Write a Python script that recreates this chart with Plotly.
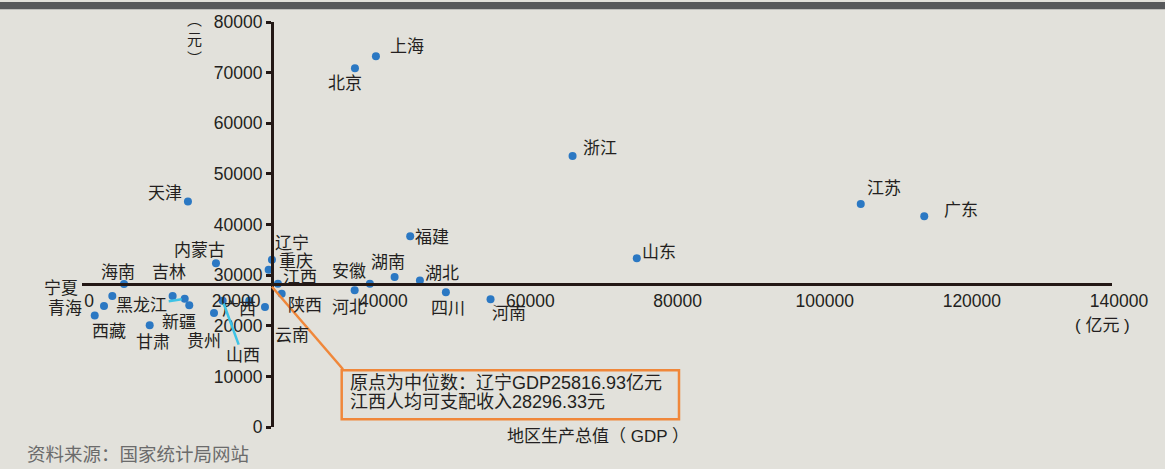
import plotly.graph_objects as go

# ---------------- data ----------------
provinces = ["上海", "北京", "浙江", "江苏", "广东", "山东", "天津", "福建",
             "内蒙古", "辽宁", "重庆", "江西", "陕西", "云南", "广西", "山西",
             "贵州", "甘肃", "新疆", "黑龙江", "吉林", "海南", "宁夏", "青海",
             "西藏", "河北", "安徽", "湖南", "湖北", "四川", "河南"]
gdp = [39950, 37100, 66680, 105850, 114480, 75410, 14400, 44610,
       18210, 25816.93, 25370, 26630, 27140, 24870, 22730, 19120,
       17940, 9200, 14580, 13960, 12320, 5710, 4120, 2990,
       1730, 37060, 39130, 42490, 45930, 49460, 55530]
income = [73230, 70860, 53530, 44070, 41630, 33350, 44520, 37690,
          32370, 33040, 31070, 28296.33, 26340, 23700, 24960, 24960,
          22520, 20090, 24030, 25350, 25870, 28230, 25870, 23900,
          22010, 26990, 28310, 29610, 28960, 26600, 25220]

median_gdp = 25816.93
median_income = 28296.33
x_max = 140000
y_max = 80000
x_ticks = [0, 20000, 40000, 60000, 80000, 100000, 120000, 140000]
y_ticks = [0, 10000, 20000, 30000, 40000, 50000, 60000, 70000, 80000]

# ---------------- layout constants ----------------
W, H = 1165, 469
ML, MR, MT, MB = 82, 53, 20, 42
PW, PH = W - ML - MR, H - MT - MB

def px(x):
    return (x - ML) / PW

def py(y):
    return (H - MB - y) / PH

# label offsets in pixels (dx right, dy down)
label_offsets = {
    "上海": (31, -10), "北京": (-10, 15), "浙江": (27, -8), "江苏": (23, -15),
    "广东": (37, -6), "山东": (22, -6), "天津": (-23, -8), "福建": (22, 1),
    "内蒙古": (-16, -13), "辽宁": (20, -16), "重庆": (27, -8), "江西": (22, -6),
    "陕西": (23, 12), "云南": (27, 28), "广西": (-10, 9), "贵州": (-10, 29),
    "甘肃": (3, 17), "新疆": (-10, 17), "吉林": (-4, -24), "海南": (-6, -12),
    "宁夏": (-51, -8), "青海": (-39, 2), "西藏": (14, 16), "河北": (-6, 17),
    "安徽": (-21, -12), "湖南": (-7, -15), "湖北": (22, -7), "四川": (2, 16),
    "河南": (18, 14),
}
leader_offsets = {"黑龙江": (-43, 7), "山西": (20, 55)}

TEXT = "#231f20"
AXIS = "#231815"
DOT = "#2b78c3"
CYAN = "#3ec3e6"
ORANGE = "#f0873a"
BG = "#e2e1db"
FONT = "Liberation Sans, Noto Sans CJK SC, sans-serif"

fig = go.Figure()
fig.add_trace(go.Scatter(
    x=gdp, y=income, mode="markers",
    marker=dict(color=DOT, size=8, line=dict(width=0)),
    hoverinfo="skip", showlegend=False,
))

annotations = []
for name, gx, gy in zip(provinces, gdp, income):
    if name in leader_offsets:
        dx, dy = leader_offsets[name]
        annotations.append(dict(
            x=gx, y=gy, xref="x", yref="y", text=name,
            showarrow=True, arrowhead=0, arrowwidth=2.5, arrowcolor=CYAN,
            ax=dx, ay=dy, standoff=3,
            font=dict(size=17, color=TEXT, family=FONT),
        ))
    else:
        dx, dy = label_offsets[name]
        annotations.append(dict(
            x=gx, y=gy, xref="x", yref="y", text=name, showarrow=False,
            xshift=dx, yshift=-dy, xanchor="center", yanchor="middle",
            font=dict(size=17, color=TEXT, family=FONT),
        ))

def note(x, y, text, size=17, color=TEXT, xanchor="center"):
    return dict(x=px(x), y=py(y), xref="paper", yref="paper", text=text,
                xanchor=xanchor, yanchor="middle", showarrow=False,
                font=dict(size=size, color=color, family=FONT))

# axis titles & notes
annotations += [
    note(194, 37, "︵<br>元<br>︶", size=15),
    note(1102, 325, "( 亿元 )"),
    note(598, 437, "地区生产总值（ GDP ）"),
    note(25, 455, "资料来源：国家统计局网站", size=18.5, color="#6b6b6b", xanchor="left"),
    note(348, 382.7, f"原点为中位数：辽宁GDP{median_gdp}亿元", size=18, xanchor="left"),
    note(348, 401.7, f"江西人均可支配收入{median_income}元", size=18, xanchor="left"),
]

shapes = [
    # dark strip at the top (cut-off title band)
    dict(type="rect", xref="paper", yref="paper", x0=px(0), x1=px(W), y0=py(7.3), y1=py(0),
         fillcolor="#58595b", line=dict(width=0), layer="above"),
    # note box
    dict(type="rect", xref="paper", yref="paper", x0=px(341.7), x1=px(679), y0=py(419.3), y1=py(370),
         line=dict(color=ORANGE, width=2.5), fillcolor="rgba(0,0,0,0)"),
    # connector from origin to the box
    dict(type="line", xref="paper", yref="paper",
         x0=median_gdp / x_max, y0=median_income / y_max - 3 / PH, x1=px(343), y1=py(369),
         line=dict(color=ORANGE, width=2.5)),
]

fig.update_layout(
    width=W, height=H,
    margin=dict(l=ML, r=MR, t=MT, b=MB, pad=0),
    paper_bgcolor=BG, plot_bgcolor=BG,
    font=dict(family=FONT, color=TEXT),
    showlegend=False,
    annotations=annotations,
    shapes=shapes,
    xaxis=dict(
        range=[0, x_max], anchor="free", position=median_income / y_max,
        showline=True, linecolor=AXIS, linewidth=3,
        ticks="", tickvals=x_ticks, ticktext=[str(v) for v in x_ticks],
        tickfont=dict(size=17.5, color=TEXT, family=FONT),
        ticklabelshift=7,
        showgrid=False, zeroline=False, fixedrange=True,
    ),
    yaxis=dict(
        range=[0, y_max], anchor="free", position=median_gdp / x_max,
        showline=True, linecolor=AXIS, linewidth=3,
        ticks="outside", ticklen=5, tickwidth=2.5, tickcolor=AXIS,
        tickvals=y_ticks, ticktext=[str(v) for v in y_ticks],
        tickfont=dict(size=17.5, color=TEXT, family=FONT),
        showgrid=False, zeroline=False, fixedrange=True,
    ),
)

fig.write_html("out.html", config={"displayModeBar": False})
